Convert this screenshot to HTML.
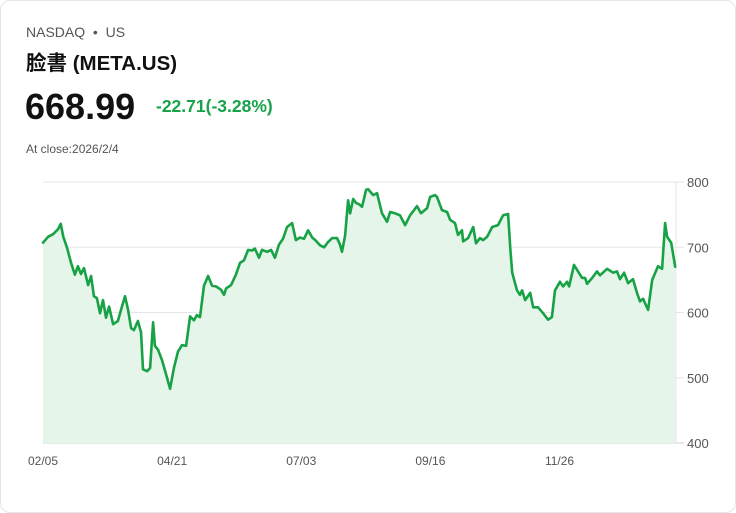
<!DOCTYPE html>
<html><head><meta charset="utf-8"><style>
body{margin:0;background:#fff;font-family:"Liberation Sans","Noto Sans CJK TC",sans-serif;}
.card{position:absolute;left:0;top:0;width:734px;height:511px;border:1px solid #e3e6ea;border-radius:10px;background:#fff;}
.t{position:absolute;white-space:nowrap;}
</style></head><body>
<div class="card">
<div class="t" style="left:25px;top:23px;font-size:14px;color:#555;">NASDAQ &nbsp;•&nbsp; US</div>
<div class="t" style="left:25px;top:45px;font-size:20.5px;font-weight:bold;color:#111;">脸書 (META.US)</div>
<div class="t" style="left:24px;top:85px;font-size:36px;font-weight:bold;color:#111;">668.99</div>
<div class="t" style="left:155px;top:95px;font-size:17.5px;font-weight:bold;color:#16a34a;">-22.71(-3.28%)</div>
<div class="t" style="left:25px;top:141px;font-size:12px;color:#555;">At close:2026/2/4</div>
<svg id="chart" width="736" height="513" style="position:absolute;left:-1px;top:-1px;"></svg>
</div>
<script>
const days=[0,2,4,6,7,8,9.5,11,12.6,13.8,15,16.2,17.8,19,20.1,21.3,22.5,23.7,24.9,26.1,27.7,29.6,30.8,32.4,33.6,34.8,35.9,37.5,38.7,39.5,41.1,42.3,43.5,44.2,45.4,47,48.6,50.2,51.7,53.3,54.9,56.5,58.1,59.6,60.8,62,63.6,65.2,66.8,68.3,70.3,71.5,72.3,74.3,76.2,77.8,79.4,81,82.6,83.7,85.3,86.5,88.5,90.1,91.6,93.2,94.8,96.4,98.4,99.9,101.5,103.1,104.7,106.3,107.8,109.4,111,112.6,114.2,116.1,117.3,118.1,119.3,120.5,121.3,122.5,123.6,124.8,126,126.8,127.6,128.4,130.4,131.9,133.9,135.9,137.1,139,141,143,145,147.7,149.3,151.7,152.9,154.8,155.6,157.6,159.6,160.8,162.7,163.9,165.5,165.9,167.9,169.9,171,172.6,173.8,175.4,177.4,179.7,181.7,183.7,184.5,185.3,187.2,188.4,189.2,190.4,192.4,193.6,195.5,197.5,199.5,201,202.2,204.2,205.4,207,207.8,209.7,212.9,214.1,214.9,216.9,218.8,220,222.8,225.2,226.7,227.9,229.5,231.1,233,234.6,235.8,237,239,240.6,242.9,244.5,245.7,246.5,248.1,249.7];
const prices=[707,716,720,728,736,716,699,677,658,671,659,668,642,656,625,622,599,619,592,609,582,587,604,625,604,576,573,587,570,513,510,515,585,549,543,527,505,483,515,540,550,549,594,588,596,593,641,656,641,640,635,627,637,642,658,676,680,696,695,698,684,696,693,696,684,704,713,731,737,711,715,713,726,715,710,703,700,708,714,714,704,693,718,772,752,774,768,766,762,775,788,789,780,783,752,739,754,752,749,734,749,763,752,760,777,780,777,757,754,742,737,719,726,709,714,731,706,714,711,716,731,734,749,751,700,661,634,627,634,619,630,608,608,599,589,593,634,647,640,647,640,673,653,653,644,653,663,657,667,661,663,651,661,645,651,630,617,621,604,650,671,667,737,716,707,670];
const yTicks=[400,500,600,700,800];
const xTickLabels=["02/05","04/21","07/03","09/16","11/26"];
const xTickDays=[0,51,102,153,204];
const X0=43,X1=676,Y0=443,Y1=182;
const xs=d=>X0+d/250*(X1-X0);
const ys=v=>Y0-(v-400)/400*(Y0-Y1);
const svg=document.getElementById('chart');
const NS='http://www.w3.org/2000/svg';
function mk(tag,attrs){const e=document.createElementNS(NS,tag);for(const k in attrs)e.setAttribute(k,attrs[k]);svg.appendChild(e);return e;}
yTicks.forEach(v=>{
  const l=mk('line',{x1:X0,x2:X1+8,y1:ys(v),y2:ys(v),stroke:v===400?'#cfd3d8':'#e3e5e8','stroke-width':1});
  
  
  const t=mk('text',{x:687,y:ys(v)+5,'font-size':13,fill:'#555','font-family':'Liberation Sans, sans-serif'});
  t.textContent=v;
  
  
});
const vl=mk('line',{x1:X1,x2:X1,y1:Y1,y2:Y0,stroke:'#e3e5e8'});


xTickLabels.forEach((s,i)=>{
  const t=mk('text',{x:xs(xTickDays[i]),y:465,'font-size':12,fill:'#555','text-anchor':'middle','font-family':'Liberation Sans, sans-serif'});
  t.textContent=s;
  
  
});
let d='';
days.forEach((dd,i)=>{d+=(i?'L':'M')+xs(dd).toFixed(1)+' '+ys(prices[i]).toFixed(1);});
const area=mk('path',{d:d+'L'+xs(days[days.length-1])+' '+Y0+'L'+X0+' '+Y0+'Z',fill:'#e6f5ea'});


const line=mk('path',{d:d,fill:'none',stroke:'#17a245','stroke-width':2.6,'stroke-linejoin':'round','stroke-linecap':'round'});


</script>
</body></html>
